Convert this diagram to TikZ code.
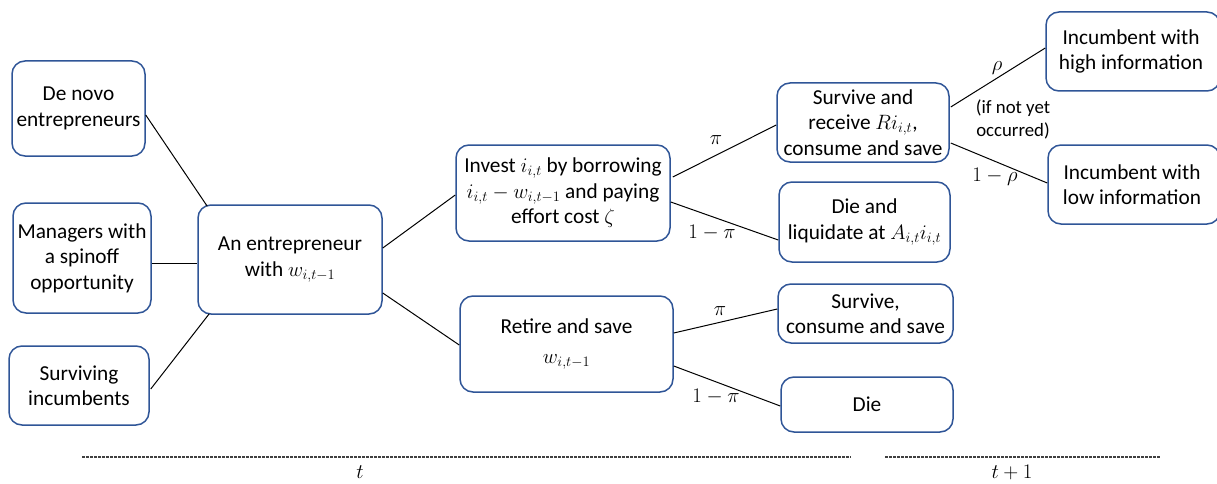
\documentclass[tikz,border=0pt]{standalone}
\usepackage[no-math]{fontspec}
\setmainfont{Carlito}
\usetikzlibrary{calc}
\definecolor{boxblue}{RGB}{47,85,151}
\tikzset{
  box/.style={draw=boxblue, line width=1.5pt, rounded corners=13pt, inner sep=0pt,
    align=center, font=\fontsize{21.3}{25.5}\selectfont},
  conn/.style={draw=black, line width=1pt},
  lab/.style={inner sep=0pt, font=\fontsize{21.5}{25}\selectfont},
  timeline/.style={line width=1.2pt, black!75, dash pattern=on 3pt off 1pt},
}
\newcommand{\bx}[6]{% name, x1, x2, y1, y2, text
  \node[box, minimum width={#3-#2}, minimum height={#5-#4}] (#1) at ({(#2+#3)/2},{(#4+#5)/2}) {#6};}
\begin{document}
\begin{tikzpicture}[x=1pt,y=-1pt]
\useasboundingbox (0,0) rectangle (1217,484);
\bx{denovo}{12}{145}{61}{156}{De novo\\entrepreneurs}
\bx{managers}{13}{151}{203}{313}{Managers with\\a spinoff\\opportunity}
\bx{surviving}{9}{149}{346}{425}{Surviving\\incumbents}
\bx{ent}{198}{382}{205}{314}{An entrepreneur\\with $w_{i,t-1}$}
\bx{invest}{456}{670}{145}{241}{Invest $i_{i,t}$ by borrowing\\$i_{i,t}-w_{i,t-1}$ and paying\\effort cost $\zeta$}
\bx{retire}{460}{673}{296}{392}{Retire and save\\[4pt]$w_{i,t-1}$}
\bx{surv}{777}{949}{83}{162}{Survive and\\receive $Ri_{i,t}$,\\consume and save}
\bx{dieliq}{779}{950}{182}{262}{Die and\\liquidate at $A_{i,t}i_{i,t}$}
\bx{survc}{778}{953}{284}{343}{Survive,\\consume and save}
\bx{die}{781}{953}{377}{432}{Die}
\bx{high}{1046}{1220}{12}{91}{\hspace*{-4pt}Incumbent with\\\hspace*{-4pt}high information}
\bx{low}{1048}{1220}{145}{224}{\hspace*{-4pt}Incumbent with\\\hspace*{-4pt}low information}

\draw[conn] ([shift={(0,6.5)}]denovo.east) -- ([shift={(10,2)}]ent.north west);
\draw[conn] ([shift={(0,5)}]managers.east) -- ([shift={(0,3.5)}]ent.west);
\draw[conn] ([shift={(1,3.5)}]surviving.east) -- ([shift={(12,-1)}]ent.south west);
\draw[conn] ([shift={(0,-11.5)}]ent.east) -- ([shift={(0,2)}]invest.west);
\draw[conn] ([shift={(0,33.5)}]ent.east) -- ([shift={(0,1)}]retire.west);
\draw[conn] ([shift={(2,-16)}]invest.east) -- ([shift={(0,2.5)}]surv.west);
\draw[conn] ([shift={(0,9)}]invest.east) -- ([shift={(0,18)}]dieliq.west);
\draw[conn] ([shift={(0,-11)}]retire.east) -- ([shift={(0,-4.5)}]survc.west);
\draw[conn] ([shift={(0,22)}]retire.east) -- ([shift={(0,1.5)}]die.west);
\draw[conn] ([shift={(1,-15.5)}]surv.east) -- ([shift={(0,-3.5)}]high.west);
\draw[conn] ([shift={(1,20.5)}]surv.east) -- ([shift={(0,-1.5)}]low.west);

\node[lab] (p1) at (716,140) {$\pi$};
\node[lab] (p2) at (712,233) {$1-\pi$};
\node[lab] (p3) at (720,311) {$\pi$};
\node[lab] (p4) at (716,397) {$1-\pi$};
\node[lab] (r1) at (997,68) {$\rho$};
\node[lab] (r2) at (995,177) {$1-\rho$};
\node[inner sep=0pt, align=center, font=\fontsize{18.8}{23}\selectfont] (note) at (1013,119) {(if not yet\\occurred)};

\draw[timeline] (82,457) -- (851,457);
\draw[timeline] (885,457) -- (1161,457);
\node[lab] (tnow) at (360,472) {$t$};
\node[lab] (tnext) at (1012,472) {$t+1$};
\end{tikzpicture}
\end{document}
